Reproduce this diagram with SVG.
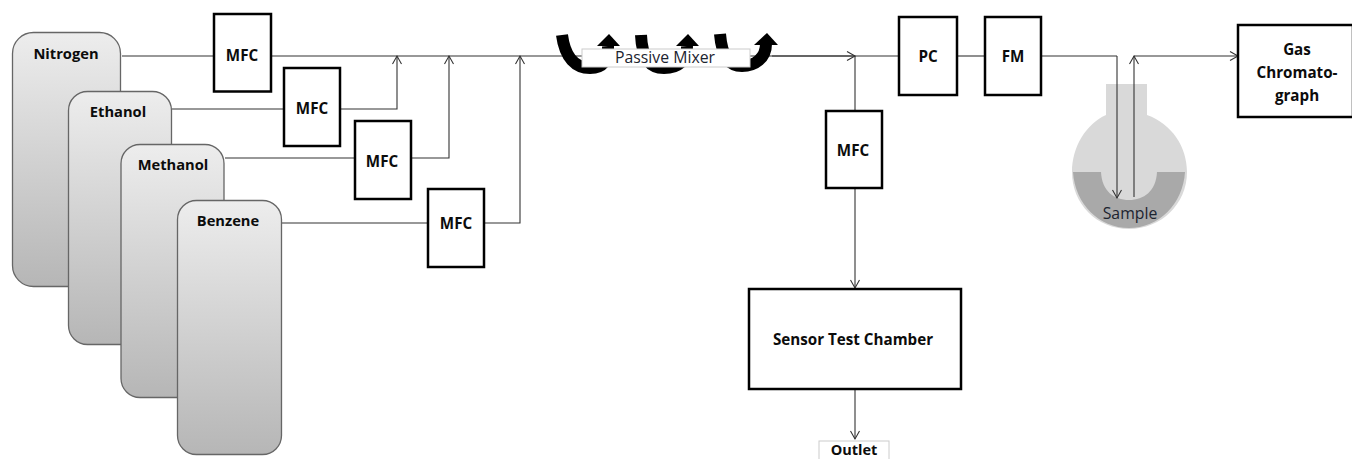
<svg xmlns="http://www.w3.org/2000/svg" width="1352" height="459" viewBox="0 0 1352 459">
<style>
.t{font-family:"Open Sans","Noto Sans","Liberation Sans",sans-serif;font-weight:700;font-size:15.2px;fill:#0c0c0c;text-anchor:middle}
.n{font-family:"Open Sans","Noto Sans","Liberation Sans",sans-serif;font-weight:700;font-size:14.7px;fill:#0c0c0c;text-anchor:middle}
.l{font-family:"Open Sans","Noto Sans","Liberation Sans",sans-serif;font-size:15.8px;fill:#1c2430;text-anchor:middle}
.box{fill:#fff;stroke:#000;stroke-width:2.5}
.tank{fill:url(#g);stroke:#666;stroke-width:1.3}
.c{fill:none;stroke:#333;stroke-width:1.1}
.u{fill:none;stroke:#000;stroke-width:12}
</style>
<defs>
<linearGradient id="g" x1="0" y1="0" x2="0" y2="1"><stop offset="0" stop-color="#ededed"/><stop offset="1" stop-color="#b6b6b6"/></linearGradient>
<marker id="a" markerWidth="12" markerHeight="12" refX="9" refY="5" orient="auto" markerUnits="userSpaceOnUse"><path d="M1 0.5L9 5L1 9.5" fill="none" stroke="#333" stroke-width="1.1"/></marker>
</defs>
<g id="connectors">
<path class="c" d="M122 56H214"/><path class="c" d="M271 56H582"/><path class="c" d="M750 56H898"/>
<path class="c" d="M172 109H284"/><path class="c" d="M340 109H397V56" marker-end="url(#a)"/>
<path class="c" d="M225 158H355"/><path class="c" d="M411 158H449V56" marker-end="url(#a)"/>
<path class="c" d="M282 223H428"/><path class="c" d="M484 223H520V56" marker-end="url(#a)"/>
<path class="c" d="M772 56H855" marker-end="url(#a)"/>
<path class="c" d="M855 56V111"/><path class="c" d="M855 188V288" marker-end="url(#a)"/>
<path class="c" d="M855 389V439" marker-end="url(#a)"/>
<path class="c" d="M957 56H985"/>
<path class="c" d="M1041 56H1117"/>
<path class="c" d="M1134 56H1238" marker-end="url(#a)"/>
</g>
<g id="nitrogen"><rect class="tank" x="12.500" y="32.500" width="108" height="254" rx="21"/><text class="n" x="66" y="58.500">Nitrogen</text></g>
<g id="ethanol"><rect class="tank" x="68.500" y="91.500" width="103" height="253" rx="19"/><text class="n" x="118" y="116.500">Ethanol</text></g>
<g id="methanol"><rect class="tank" x="121" y="144.500" width="103" height="253" rx="19"/><text class="n" x="173" y="170">Methanol</text></g>
<g id="benzene"><rect class="tank" x="177.500" y="200.500" width="104" height="254" rx="19"/><text class="n" x="228" y="226">Benzene</text></g>
<g id="mfc1"><rect class="box" x="214" y="14" width="57" height="77.500"/><text class="t" x="242" y="61">MFC</text></g>
<g id="mfc2"><rect class="box" x="284" y="68" width="56" height="78"/><text class="t" x="312" y="114">MFC</text></g>
<g id="mfc3"><rect class="box" x="355" y="121" width="56" height="78"/><text class="t" x="382" y="167">MFC</text></g>
<g id="mfc4"><rect class="box" x="428" y="189" width="56" height="78"/><text class="t" x="456" y="229">MFC</text></g>
<g id="mixer">
<path class="u" d="M562 35C565 58 576 68 590 68C603 68 609 60 608 46"/>
<path d="M597 46L609 34L620 46Z" fill="#000"/>
<path class="u" d="M641 35C642 58 650 68 664 68C678 68 688 60 687 46"/>
<path d="M676 46L688 34L699 46Z" fill="#000"/>
<path class="u" d="M720 34C722 58 730 66 742 66C755 66 766 58 766 44"/>
<path d="M754 45L767 33L778 45Z" fill="#000"/>
<rect x="582" y="49" width="168" height="18" fill="#fff" stroke="#ccc" stroke-width="1"/>
<text class="l" x="665" y="63">Passive Mixer</text>
</g>
<g id="mfc5"><rect class="box" x="826" y="111" width="56" height="77"/><text class="t" x="853" y="156">MFC</text></g>
<g id="chamber"><rect class="box" x="749" y="289" width="212" height="100"/><text class="t" x="853" y="345">Sensor Test Chamber</text></g>
<g id="outlet"><rect x="819" y="441" width="70" height="30" fill="#fff" stroke="#ccc" stroke-width="1"/><text class="t" x="854" y="455" style="font-size:14.500px">Outlet</text></g>
<g id="pc"><rect class="box" x="899" y="17" width="58" height="78"/><text class="t" x="928" y="62">PC</text></g>
<g id="fm"><rect class="box" x="985" y="17" width="56" height="78"/><text class="t" x="1013" y="62">FM</text></g>
<g id="flask">
<path d="M1106 84H1147V115C1172 124 1187 147 1187 172C1187 204 1161 229 1129 229C1097 229 1072 204 1072 172C1072 147 1086 124 1106 115Z" fill="#d9d9d9"/>
<path d="M1073 172H1101C1102 191 1114 200 1129 200C1144 200 1156 191 1157 172H1185C1183 204 1159 228 1129 228C1099 228 1075 204 1073 172Z" fill="#a9a9a9"/>
<text class="l" x="1130" y="219">Sample</text>
</g>
<g id="flask-lines">
<path class="c" d="M1117 56V198" marker-end="url(#a)"/>
<path class="c" d="M1134 197V56" marker-end="url(#a)"/>
</g>
<g id="gc"><rect class="box" x="1238" y="25" width="115" height="92"/><text class="t" x="1297" y="55">Gas</text><text class="t" x="1297" y="78">Chromato-</text><text class="t" x="1297" y="101">graph</text></g>
</svg>
